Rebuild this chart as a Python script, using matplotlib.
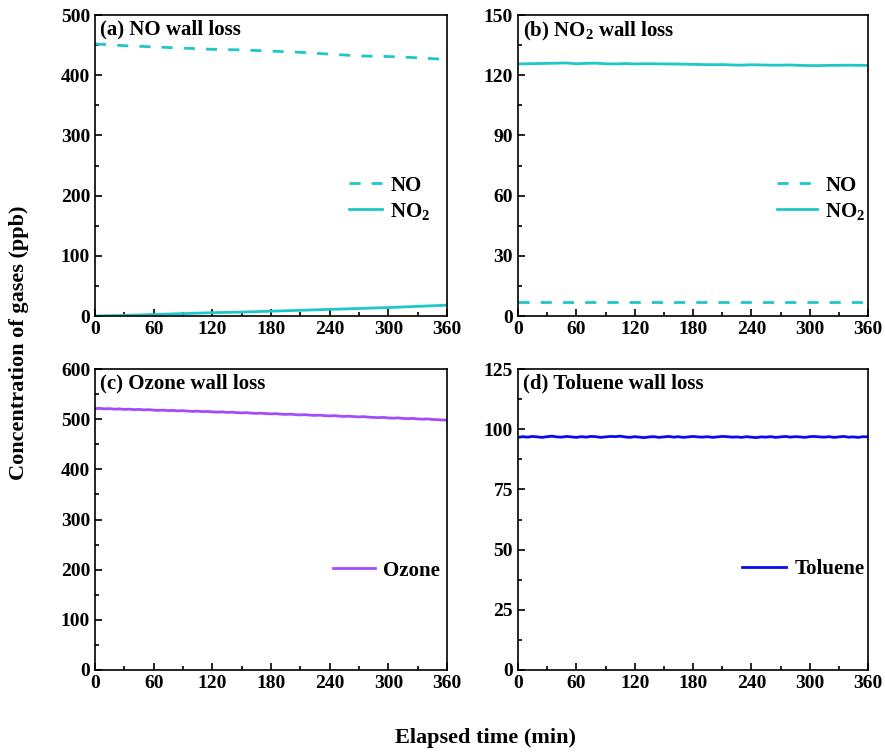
import numpy as np
import matplotlib
matplotlib.use("Agg")
import matplotlib.pyplot as plt
from matplotlib.ticker import MultipleLocator

plt.rcParams["font.family"] = ["Liberation Serif", "DejaVu Serif"]
plt.rcParams["font.weight"] = "bold"
plt.rcParams["mathtext.fontset"] = "custom"
plt.rcParams["mathtext.rm"] = "Liberation Serif:bold"
plt.rcParams["mathtext.default"] = "rm"

# (a) NO wall loss, every 30 min
no_a = [452, 449, 447, 445, 443, 442, 440, 438, 435, 432, 431, 429, 426]
no2_a = [0, 1, 2.5, 4, 5.5, 6.5, 8, 9.5, 11, 12.5, 14, 16, 18]

# (b) NO2 wall loss, every 10 min
no2_b = [125.6, 125.7, 125.8, 125.9, 126.0, 126.1, 125.7, 125.9, 126.0, 125.7,
         125.6, 125.8, 125.6, 125.7, 125.7, 125.6, 125.6, 125.5, 125.4, 125.3,
         125.2, 125.3, 125.1, 125.0, 125.2, 125.1, 125.0, 125.0, 125.1, 124.9,
         124.8, 124.8, 124.9, 124.9, 125.0, 124.9, 124.9]
no_b = [6.9, 6.9, 6.9, 6.9, 6.9, 6.9, 6.9]

# (c) ozone, every 5 min
ozone = [521, 521.5, 520.5, 521, 520, 520.5, 519.5, 520, 519, 519.5, 518.5, 519,
         518, 517.5, 518, 517, 517.5, 516.5, 517, 516, 515.5, 516, 515, 515.5,
         514.5, 514, 514.5, 513.5, 514, 513, 512.5, 513, 512, 511.5, 512, 511,
         510.5, 511, 510, 509.5, 510, 509, 508.5, 509, 508, 507.5, 508, 507,
         506.5, 507, 506, 505.5, 506, 505, 504.5, 505, 504, 503.5, 503, 503.5,
         502.5, 502, 502.5, 501.5, 501, 501.5, 500.5, 500, 500.5, 499.5, 499,
         498.5, 498]

# (d) toluene, every 5 min
toluene = [96.6, 96.9, 96.7, 97.0, 96.8, 96.6, 96.9, 97.1, 96.8, 96.7, 97.0, 96.8,
           96.6, 96.9, 96.7, 97.0, 96.9, 96.6, 96.8, 97.0, 96.9, 97.1, 96.8, 96.6,
           96.9, 96.7, 96.5, 96.8, 96.9, 96.6, 96.8, 97.0, 96.7, 96.9, 96.6, 96.8,
           97.0, 96.8, 96.7, 96.9, 96.6, 96.8, 97.0, 96.9, 96.7, 96.8, 96.6, 96.9,
           96.7, 96.5, 96.8, 96.7, 96.9, 96.6, 96.8, 97.0, 96.7, 96.9, 96.8, 96.6,
           96.9, 97.0, 96.8, 96.7, 96.9, 96.6, 96.8, 97.0, 96.7, 96.8, 96.6, 96.9,
           96.8]

cyan = "#1FC8C8"
purple = "#A24BFF"
blue = "#0A0AEE"
dash = (0, (4, 4))


def t_of(vals):
    return np.linspace(0, 360, len(vals))


fig = plt.figure(figsize=(8.85, 7.53), dpi=100)
W, H = 885, 753


def make_ax(l, r, top, bot):
    return fig.add_axes([l / W, 1 - bot / H, (r - l) / W, (bot - top) / H])


ax_a = make_ax(95, 447, 15, 316)
ax_b = make_ax(518, 868, 15, 316)
ax_c = make_ax(95, 447, 369, 670)
ax_d = make_ax(518, 868, 369, 670)

ax_a.plot(t_of(no_a), no_a, color=cyan, lw=2, ls=dash, label="NO")
ax_a.plot(t_of(no2_a), no2_a, color=cyan, lw=2, label="NO$_2$")
ax_b.plot(t_of(no_b), no_b, color=cyan, lw=2, ls=dash, label="NO")
ax_b.plot(t_of(no2_b), no2_b, color=cyan, lw=2, label="NO$_2$")
ax_c.plot(t_of(ozone), ozone, color=purple, lw=2, label="Ozone")
ax_d.plot(t_of(toluene), toluene, color=blue, lw=2, label="Toluene")

settings = [
    (ax_a, "(a) NO wall loss", 500, 100, (0.977, 0.39), 1.6),
    (ax_b, "(b) NO$_2$ wall loss", 150, 30, (1.017, 0.39), 1.9),
    (ax_c, "(c) Ozone wall loss", 600, 100, (1.003, 0.33), 2.0),
    (ax_d, "(d) Toluene wall loss", 125, 25, (1.014, 0.335), 2.1),
]
for ax, title, ymax, ystep, leg_pos, hl in settings:
    ax.set_xlim(0, 360)
    ax.set_ylim(0, ymax)
    ax.xaxis.set_major_locator(MultipleLocator(60))
    ax.xaxis.set_minor_locator(MultipleLocator(30))
    ax.yaxis.set_major_locator(MultipleLocator(ystep))
    ax.yaxis.set_minor_locator(MultipleLocator(ystep / 2))
    ax.tick_params(which="major", direction="in", length=5, width=1.2, labelsize=14)
    ax.tick_params(which="minor", direction="in", length=3, width=1.2)
    for s in ax.spines.values():
        s.set_linewidth(1.2)
    for lab in ax.get_xticklabels() + ax.get_yticklabels():
        lab.set_fontweight("bold")
    ax.text(0.014, 0.985, title, transform=ax.transAxes, ha="left", va="top",
            fontsize=15, fontweight="bold")
    ax.legend(loc="center right", bbox_to_anchor=leg_pos, frameon=False,
              fontsize=15, handlelength=hl, handletextpad=0.4,
              labelspacing=0.25, borderaxespad=0)

fig.text(0.021, 0.545, "Concentration of gases (ppb)", rotation=90,
         ha="center", va="center", fontsize=16, fontweight="bold")
fig.text(0.549, 0.02, "Elapsed time (min)", ha="center", va="center",
         fontsize=16, fontweight="bold")

fig.savefig("out.png", dpi=100)
